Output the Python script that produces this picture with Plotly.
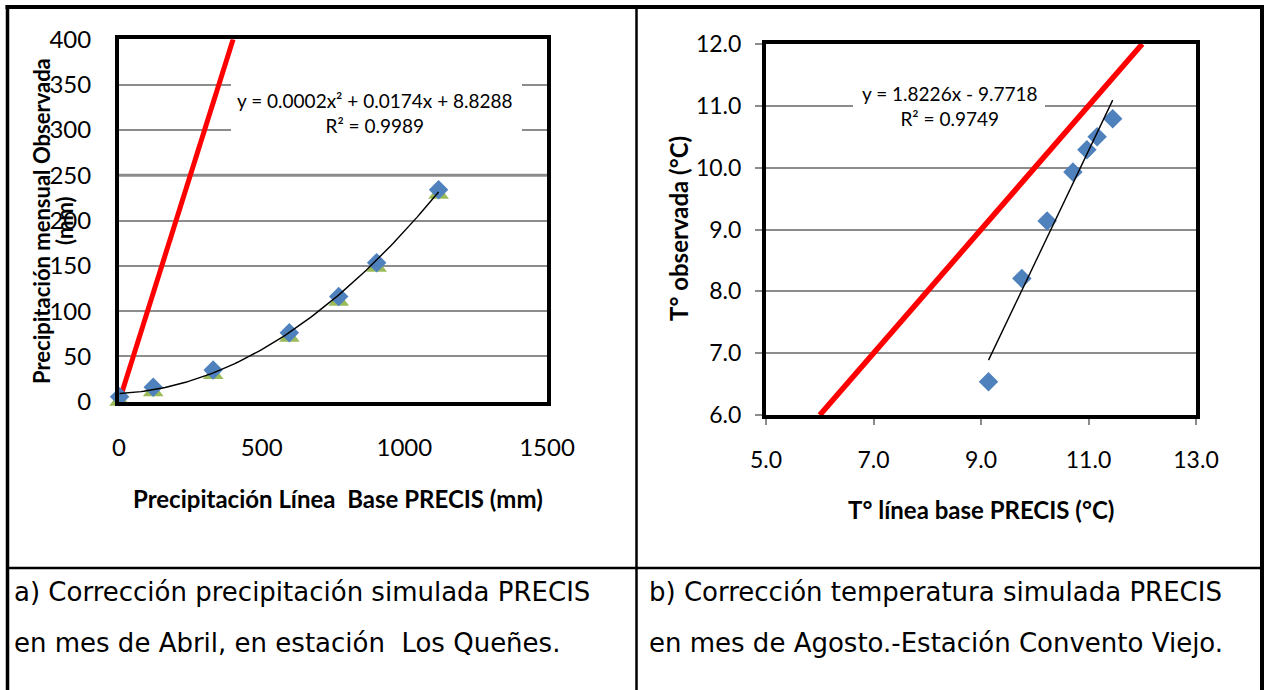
import numpy as np
import plotly.graph_objects as go

W, H = 1265, 690

# ---------------- data: panel a (precipitation, April, Los Queñes) ----------------
precis_mm = [2, 120, 330, 597, 770, 903, 1120]          # PRECIS baseline (mm)
obs_mm = [5.5, 16, 35, 76, 116, 153.5, 234]             # observed (mm)  - blue diamonds
corr_mm = [0.5, 11, 30, 71, 111, 148.5, 229]            # second series - green triangles
one_to_one_a = [0, 400]                                  # 1:1 reference line
x_ticks_a = [0, 500, 1000, 1500]
y_ticks_a = [0, 50, 100, 150, 200, 250, 300, 350, 400]
eq_a = "y = 0.0002x² + 0.0174x + 8.8288<br>R² = 0.9989"

# ---------------- data: panel b (temperature, August, Convento Viejo) -------------
precis_t = [9.14, 9.76, 10.23, 10.71, 10.97, 11.16, 11.45]
obs_t = [6.54, 8.21, 9.14, 9.93, 10.29, 10.50, 10.79]
one_to_one_b = [6, 12]
x_ticks_b = [5, 7, 9, 11, 13]
y_ticks_b = [6, 7, 8, 9, 10, 11, 12]
eq_b = "y = 1.8226x - 9.7718<br>R² = 0.9749"

cap_a = ["a) Corrección precipitación simulada PRECIS",
         "en mes de Abril, en estación  Los Queñes."]
cap_b = ["b) Corrección temperatura simulada PRECIS",
         "en mes de Agosto.-Estación Convento Viejo."]

# ---------------- layout geometry (pixels) ----------------
A_L, A_R, A_T, A_B = 119, 547, 39.3, 401.7
B_L, B_R, B_T, B_B = 766, 1196, 44, 415.1

def px(x):
    return x / W

def py(y):
    return 1 - y / H

BLUE = "#4F81BD"
GREEN = "#9BBB59"
GRID = "#8C8C8C"
TICKFONT_A = dict(family="Lato", size=24, color="#000000")
TICKFONT_B = dict(family="Lato", size=23, color="#000000")
TITLEFONT = dict(family="Lato", size=24, color="#000000", weight="bold")
TITLEFONT_Y = dict(family="Lato", size=22, color="#000000", weight="bold")
EQFONT = dict(family="Lato", size=19, color="#000000")
CAPFONT = dict(family="DejaVu Sans", size=26, color="#000000")

fig = go.Figure()

# ---- panel a traces ----
fig.add_trace(go.Scatter(x=one_to_one_a, y=one_to_one_a, mode="lines",
                         line=dict(color="#FF0000", width=5), xaxis="x", yaxis="y",
                         showlegend=False, hoverinfo="skip"))
fig.add_trace(go.Scatter(x=precis_mm, y=corr_mm, mode="markers",
                         marker=dict(symbol="triangle-up", size=18, color=GREEN),
                         xaxis="x", yaxis="y", cliponaxis=False, showlegend=False))
fig.add_trace(go.Scatter(x=precis_mm, y=obs_mm, mode="markers",
                         marker=dict(symbol="diamond", size=15, color=BLUE),
                         xaxis="x", yaxis="y", cliponaxis=False, showlegend=False))
ca = np.polyfit(precis_mm, obs_mm, 2)
xa = np.linspace(min(precis_mm), max(precis_mm), 120)
fig.add_trace(go.Scatter(x=xa, y=np.polyval(ca, xa), mode="lines",
                         line=dict(color="#000000", width=1.4), xaxis="x", yaxis="y",
                         showlegend=False, hoverinfo="skip"))

# ---- panel b traces ----
fig.add_trace(go.Scatter(x=one_to_one_b, y=one_to_one_b, mode="lines",
                         line=dict(color="#FF0000", width=5.5), xaxis="x2", yaxis="y2",
                         showlegend=False, hoverinfo="skip"))
fig.add_trace(go.Scatter(x=precis_t, y=obs_t, mode="markers",
                         marker=dict(symbol="diamond", size=15, color=BLUE),
                         xaxis="x2", yaxis="y2", cliponaxis=False, showlegend=False))
cb = np.polyfit(precis_t, obs_t, 1)
xb = np.array([min(precis_t), max(precis_t)])
fig.add_trace(go.Scatter(x=xb, y=np.polyval(cb, xb), mode="lines",
                         line=dict(color="#000000", width=1.4), xaxis="x2", yaxis="y2",
                         showlegend=False, hoverinfo="skip"))

axis_common = dict(showline=True, mirror=True, linecolor="#000000", linewidth=4,
                   zeroline=False, fixedrange=True, automargin=False)

fig.update_layout(
    template="none",
    width=W, height=H, autosize=False,
    margin=dict(l=0, r=0, t=0, b=0, pad=0, autoexpand=False),
    paper_bgcolor="white", plot_bgcolor="white",
    showlegend=False,
    xaxis=dict(domain=[px(A_L), px(A_R)], range=[0, 1500], tickvals=x_ticks_a,
               showgrid=False, ticks="", ticklabelstandoff=21, anchor="y",
               tickfont=TICKFONT_A, **axis_common),
    yaxis=dict(domain=[py(A_B), py(A_T)], range=[0, 400], tickvals=y_ticks_a,
               showgrid=True, gridcolor=GRID, gridwidth=2, ticks="",
               ticklabelstandoff=19, anchor="x", tickfont=TICKFONT_A, **axis_common),
    xaxis2=dict(domain=[px(B_L), px(B_R)], range=[5, 13], tickvals=x_ticks_b,
                tickformat=".1f", showgrid=False, ticks="outside", ticklen=6,
                tickcolor=GRID, tickwidth=1.5, ticklabelstandoff=15, anchor="y2",
                tickfont=TICKFONT_B, **axis_common),
    yaxis2=dict(domain=[py(B_B), py(B_T)], range=[6, 12], tickvals=y_ticks_b,
                tickformat=".1f", showgrid=True, gridcolor=GRID, gridwidth=2,
                ticks="outside", ticklen=7, tickcolor=GRID, tickwidth=1.5,
                ticklabelstandoff=9, anchor="x2", tickfont=TICKFONT_B, **axis_common),
)

# white boxes behind the trendline equations (interrupting the gridlines)
def ax_x(pxv, L, R, lo, hi):
    return lo + (pxv - L) / (R - L) * (hi - lo)

def ax_y(pyv, T, B, lo, hi):
    return lo + (B - pyv) / (B - T) * (hi - lo)

shapes = []
shapes.append(dict(type="rect", xref="x", yref="y", layer="between",
                   x0=ax_x(231, A_L, A_R, 0, 1500), x1=ax_x(522, A_L, A_R, 0, 1500),
                   y0=ax_y(140, A_T, A_B, 0, 400), y1=ax_y(80, A_T, A_B, 0, 400),
                   fillcolor="white", line=dict(width=0)))
shapes.append(dict(type="line", xref="x", yref="y", layer="below",
                   x0=0, x1=1500, y0=250, y1=250, line=dict(color=GRID, width=3)))
shapes.append(dict(type="rect", xref="x2", yref="y2", layer="between",
                   x0=ax_x(853, B_L, B_R, 5, 13), x1=ax_x(1045, B_L, B_R, 5, 13),
                   y0=ax_y(128, B_T, B_B, 6, 12), y1=ax_y(85, B_T, B_B, 6, 12),
                   fillcolor="white", line=dict(width=0)))

# table frame
def hline(y, x0, x1, w):
    return dict(type="line", xref="paper", yref="paper", x0=px(x0), x1=px(x1),
                y0=py(y), y1=py(y), line=dict(color="#000000", width=w), layer="above")

def vline(x, y0, y1, w):
    return dict(type="line", xref="paper", yref="paper", x0=px(x), x1=px(x),
                y0=py(y0), y1=py(y1), line=dict(color="#000000", width=w), layer="above")

shapes += [hline(7, 5.5, 1263.5, 4), hline(568, 7, 1262, 2.5),
           vline(7.5, 5, 690, 3.5), vline(636.5, 5, 690, 2.5), vline(1262, 5, 690, 4)]
fig.update_layout(shapes=shapes)

ann = []
ann.append(dict(xref="paper", yref="paper", x=px(375), y=py(113), text=eq_a,
                showarrow=False, font=EQFONT, align="center",
                xanchor="center", yanchor="middle"))
ann.append(dict(xref="paper", yref="paper", x=px(950), y=py(106), text=eq_b,
                showarrow=False, font=EQFONT, align="center",
                xanchor="center", yanchor="middle"))
# axis titles
ann.append(dict(xref="paper", yref="paper", x=px(41), y=py(221),
                text="Precipitación mensual Observada", textangle=-90,
                showarrow=False, font=TITLEFONT_Y, xanchor="center", yanchor="middle"))
ann.append(dict(xref="paper", yref="paper", x=px(64), y=py(221), text="(mm)",
                textangle=-90, showarrow=False, font=TITLEFONT_Y,
                xanchor="center", yanchor="middle"))
ann.append(dict(xref="paper", yref="paper", x=px(338), y=py(498),
                text="Precipitación Línea  Base PRECIS (mm)",
                showarrow=False, font=TITLEFONT, xanchor="center", yanchor="middle"))
ann.append(dict(xref="paper", yref="paper", x=px(678), y=py(229),
                text="T° observada (°C)", textangle=-90,
                showarrow=False, font=TITLEFONT, xanchor="center", yanchor="middle"))
ann.append(dict(xref="paper", yref="paper", x=px(981), y=py(510),
                text="T° línea base PRECIS (°C)",
                showarrow=False, font=TITLEFONT, xanchor="center", yanchor="middle"))
# captions
for i, yy in enumerate([592, 643]):
    ann.append(dict(xref="paper", yref="paper", x=px(12), y=py(yy), text=cap_a[i],
                    showarrow=False, font=CAPFONT, xanchor="left", yanchor="middle"))
    ann.append(dict(xref="paper", yref="paper", x=px(647), y=py(yy), text=cap_b[i],
                    showarrow=False, font=CAPFONT, xanchor="left", yanchor="middle"))
fig.update_layout(annotations=ann)

fig.write_html("out.html",
               post_script="document.body.style.margin='0';"
                           "document.body.style.overflow='hidden';")
